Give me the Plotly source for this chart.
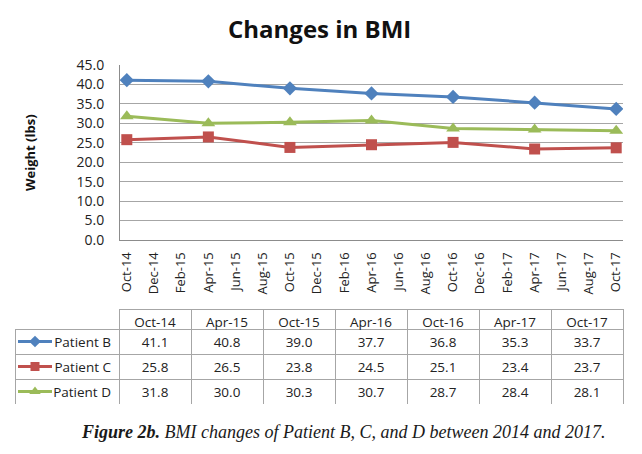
import plotly.graph_objects as go

# ---- data ----
months = ["Oct-14", "Nov-14", "Dec-14", "Jan-15", "Feb-15", "Mar-15", "Apr-15", "May-15",
          "Jun-15", "Jul-15", "Aug-15", "Sep-15", "Oct-15", "Nov-15", "Dec-15", "Jan-16",
          "Feb-16", "Mar-16", "Apr-16", "May-16", "Jun-16", "Jul-16", "Aug-16", "Sep-16",
          "Oct-16", "Nov-16", "Dec-16", "Jan-17", "Feb-17", "Mar-17", "Apr-17", "May-17",
          "Jun-17", "Jul-17", "Aug-17", "Sep-17", "Oct-17"]
tick_labels = ["Oct-14", "Dec-14", "Feb-15", "Apr-15", "Jun-15", "Aug-15", "Oct-15",
               "Dec-15", "Feb-16", "Apr-16", "Jun-16", "Aug-16", "Oct-16", "Dec-16",
               "Feb-17", "Apr-17", "Jun-17", "Aug-17", "Oct-17"]
dates = ["Oct-14", "Apr-15", "Oct-15", "Apr-16", "Oct-16", "Apr-17", "Oct-17"]
patient_b = [41.1, 40.8, 39.0, 37.7, 36.8, 35.3, 33.7]
patient_c = [25.8, 26.5, 23.8, 24.5, 25.1, 23.4, 23.7]
patient_d = [31.8, 30.0, 30.3, 30.7, 28.7, 28.4, 28.1]
series_names = ["Patient B", "Patient C", "Patient D"]
y_ticks = [0, 5, 10, 15, 20, 25, 30, 35, 40, 45]

W, H = 642, 454
def px_x(p):
    return p / W
def px_y(p):
    return 1 - p / H

colors = ["#4F81BD", "#C0504D", "#9BBB59"]
symbols = ["diamond", "square", "triangle-up"]
msizes = [11, 11, 12]
series = [patient_b, patient_c, patient_d]
FONT = "Open Sans"

fig = go.Figure()
for name, vals, c, s, ms in zip(series_names, series, colors, symbols, msizes):
    fig.add_trace(go.Scatter(x=dates, y=vals, name=name, mode="lines+markers",
                             line=dict(color=c, width=3),
                             marker=dict(symbol=s, size=ms, color=c),
                             xaxis="x", yaxis="y", showlegend=False))

# data table
header_vals = [""] + dates
cell_vals = [series_names] + [
    [f"{patient_b[j]:.1f}", f"{patient_c[j]:.1f}", f"{patient_d[j]:.1f}"] for j in range(len(dates))]
fig.add_trace(go.Table(
    domain=dict(x=[px_x(15), px_x(623)], y=[px_y(404), px_y(309)]),
    columnwidth=[104] + [72] * 7,
    header=dict(values=header_vals, height=20,
                line=dict(color=["rgba(0,0,0,0)"] + ["#A6A6A6"] * 7, width=1),
                fill=dict(color=["rgba(0,0,0,0)"] + ["white"] * 7),
                font=dict(family=FONT, size=13.5, color="#222"), align="center"),
    cells=dict(values=cell_vals, height=25,
               line=dict(color="#A6A6A6", width=1),
               fill=dict(color=["rgba(0,0,0,0)"] + ["white"] * 7),
               font=dict(family=FONT, size=13.5, color="#222"),
               align=["right"] + ["center"] * 7),
))

# legend icons in the table's first column (drawn after table)
for i, (c, s, ms) in enumerate(zip(colors, symbols, msizes)):
    fig.add_trace(go.Scatter(x=[0, 1, 2], y=[i, i, i], mode="lines",
                             line=dict(color=c, width=3), xaxis="x2", yaxis="y2",
                             showlegend=False, hoverinfo="skip"))
    fig.add_trace(go.Scatter(x=[1], y=[i], mode="markers",
                             marker=dict(symbol=s, size=ms - 2, color=c), xaxis="x2", yaxis="y2",
                             showlegend=False, hoverinfo="skip"))

fig.update_layout(
    width=W, height=H, margin=dict(l=0, r=0, t=0, b=0, autoexpand=False),
    paper_bgcolor="white", plot_bgcolor="rgba(0,0,0,0)",
    font=dict(family=FONT, color="#222"),
    xaxis=dict(domain=[px_x(120), px_x(623)], type="category", categoryorder="array",
               categoryarray=months, range=[-0.5, len(months) - 0.5],
               tickmode="array", tickvals=tick_labels, ticktext=tick_labels,
               tickangle=-90, tickfont=dict(family=FONT, size=13, color="#222"),
               showgrid=False, showline=True, linecolor="#8C8C8C", linewidth=1,
               ticks="outside", ticklen=6, tickcolor="rgba(0,0,0,0)", zeroline=False,
               anchor="y", automargin=False),
    yaxis=dict(domain=[px_y(240), px_y(65)], range=[0, 45], tickvals=y_ticks,
               tickformat=".1f", tickfont=dict(family=FONT, size=14, color="#222"),
               showgrid=True, gridcolor="#A6A6A6", gridwidth=1,
               showline=True, linecolor="#8C8C8C", linewidth=1,
               ticks="outside", ticklen=12, tickcolor="rgba(0,0,0,0)", zeroline=False,
               anchor="x", automargin=False),
    xaxis2=dict(domain=[px_x(18), px_x(52)], range=[0, 2], visible=False, anchor="y2",
                fixedrange=True, automargin=False),
    yaxis2=dict(domain=[px_y(404), px_y(329)], range=[2.5, -0.5], visible=False, anchor="x2",
                fixedrange=True, automargin=False),
    annotations=[
        dict(text="<b>Changes in BMI</b>", x=px_x(319), y=px_y(28), xref="paper", yref="paper",
             showarrow=False, font=dict(family=FONT, size=24, color="#111"),
             xanchor="center", yanchor="middle"),
        dict(text="<b>Weight (lbs)</b>", x=px_x(30), y=px_y(153), xref="paper", yref="paper",
             showarrow=False, textangle=-90, font=dict(family=FONT, size=13, color="#111"),
             xanchor="center", yanchor="middle"),
        dict(text="<b><i>Figure 2b.</i></b><i> BMI changes of Patient B, C, and D between 2014 and 2017.</i>",
             x=px_x(343), y=px_y(432), xref="paper", yref="paper", showarrow=False,
             font=dict(family="Liberation Serif", size=18, color="#1a1a1a"),
             xanchor="center", yanchor="middle"),
    ],
)

fig.write_html("out.html", config={"displayModeBar": False},
               post_script="document.body.style.margin='0';")
